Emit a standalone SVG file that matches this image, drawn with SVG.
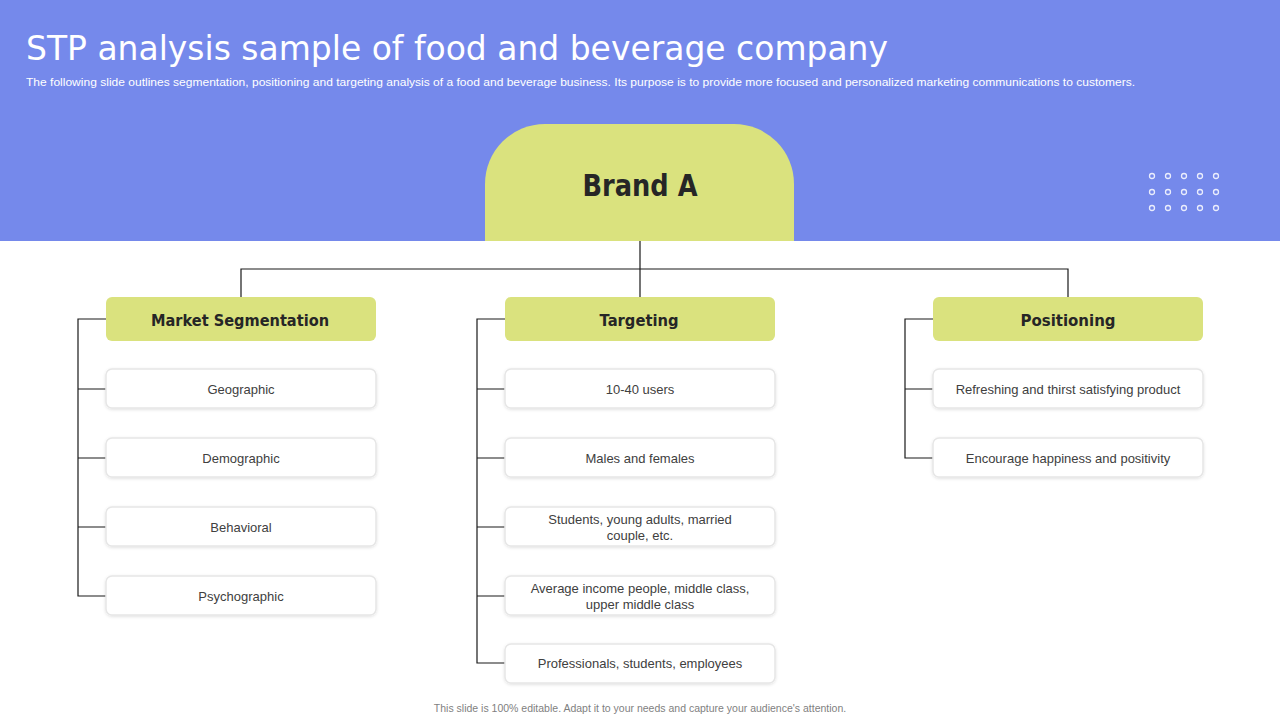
<svg xmlns="http://www.w3.org/2000/svg" width="1280" height="720" viewBox="0 0 1280 720">
<defs>
<style>
.hd{fill:#dae27e}
.bx{fill:#fff;stroke:#e6e6e6;stroke-width:1.5}
.ht{font-family:"DejaVu Sans","Liberation Sans",sans-serif;font-weight:bold;font-size:16px;fill:#262626;text-anchor:middle}
.it{font-family:"Liberation Sans",Arial,sans-serif;font-size:13px;fill:#404040;text-anchor:middle}
.ln{stroke:#1a1a1a;stroke-width:1.2;fill:none}
.dot{fill:none;stroke:#fff;stroke-opacity:.85;stroke-width:1.3}
</style>
<filter id="sh" x="-5%" y="-20%" width="110%" height="140%"><feDropShadow dx="0" dy="1" stdDeviation="1.5" flood-color="#000" flood-opacity="0.12"/></filter>
</defs>
<rect width="1280" height="720" fill="#fff"/>
<rect width="1280" height="241" fill="#7589eb"/>
<text x="26" y="60" font-family="DejaVu Sans,sans-serif" font-size="33" fill="#fff" textLength="862" lengthAdjust="spacingAndGlyphs">STP analysis sample of food and beverage company</text>
<text x="26" y="86" font-family="Liberation Sans,Arial,sans-serif" font-size="11.3" fill="#fff" textLength="1109" lengthAdjust="spacingAndGlyphs">The following slide outlines segmentation, positioning and targeting analysis of a food and beverage business. Its purpose is to provide more focused and personalized marketing communications to customers.</text>
<g id="dots">
<circle class="dot" cx="1152" cy="176" r="2.5"/><circle class="dot" cx="1168" cy="176" r="2.5"/><circle class="dot" cx="1184" cy="176" r="2.5"/><circle class="dot" cx="1200" cy="176" r="2.5"/><circle class="dot" cx="1216" cy="176" r="2.5"/>
<circle class="dot" cx="1152" cy="192" r="2.5"/><circle class="dot" cx="1168" cy="192" r="2.5"/><circle class="dot" cx="1184" cy="192" r="2.5"/><circle class="dot" cx="1200" cy="192" r="2.5"/><circle class="dot" cx="1216" cy="192" r="2.5"/>
<circle class="dot" cx="1152" cy="208" r="2.5"/><circle class="dot" cx="1168" cy="208" r="2.5"/><circle class="dot" cx="1184" cy="208" r="2.5"/><circle class="dot" cx="1200" cy="208" r="2.5"/><circle class="dot" cx="1216" cy="208" r="2.5"/>
</g>
<g id="brand">
<path d="M485,241 V184 A60,60 0 0 1 545,124 H734 A60,60 0 0 1 794,184 V241 Z" class="hd"/>
<text x="640" y="196" font-family="DejaVu Sans,sans-serif" font-weight="bold" font-size="30" fill="#262626" text-anchor="middle" textLength="115" lengthAdjust="spacingAndGlyphs">Brand A</text>
</g>
<g id="connectors">
<path class="ln" d="M640,241 V297 M241,297 V269 H1068 V297"/>
<path class="ln" d="M106,319 H78 V596 H106 M78,389 H106 M78,458 H106 M78,527 H106"/>
<path class="ln" d="M505,319 H477 V663 H505 M477,389 H505 M477,458 H505 M477,527 H505 M477,596 H505"/>
<path class="ln" d="M933,319 H905 V458 H933 M905,389 H933"/>
</g>
<g id="seg">
<rect class="hd" x="106" y="297" width="270" height="44" rx="6"/><text class="ht" x="240" y="326" textLength="178" lengthAdjust="spacingAndGlyphs">Market Segmentation</text>
</g>
<g id="seg-geo"><rect class="bx" filter="url(#sh)" x="106" y="369" width="270" height="39" rx="6"/><text class="it" x="241" y="394">Geographic</text></g>
<g id="seg-demo"><rect class="bx" filter="url(#sh)" x="106" y="438" width="270" height="39" rx="6"/><text class="it" x="241" y="463">Demographic</text></g>
<g id="seg-beh"><rect class="bx" filter="url(#sh)" x="106" y="507" width="270" height="39" rx="6"/><text class="it" x="241" y="532">Behavioral</text></g>
<g id="seg-psy"><rect class="bx" filter="url(#sh)" x="106" y="576" width="270" height="39" rx="6"/><text class="it" x="241" y="601">Psychographic</text></g>
<g id="tar">
<rect class="hd" x="505" y="297" width="270" height="44" rx="6"/><text class="ht" x="639" y="326" textLength="79" lengthAdjust="spacingAndGlyphs">Targeting</text>
</g>
<g id="tar-1"><rect class="bx" filter="url(#sh)" x="505" y="369" width="270" height="39" rx="6"/><text class="it" x="640" y="394">10-40 users</text></g>
<g id="tar-2"><rect class="bx" filter="url(#sh)" x="505" y="438" width="270" height="39" rx="6"/><text class="it" x="640" y="463">Males and females</text></g>
<g id="tar-3"><rect class="bx" filter="url(#sh)" x="505" y="507" width="270" height="39" rx="6"/><text class="it" x="640" y="524">Students, young adults, married</text><text class="it" x="640" y="540">couple, etc.</text></g>
<g id="tar-4"><rect class="bx" filter="url(#sh)" x="505" y="576" width="270" height="39" rx="6"/><text class="it" x="640" y="593">Average  income people, middle class,</text><text class="it" x="640" y="609">upper middle class</text></g>
<g id="tar-5"><rect class="bx" filter="url(#sh)" x="505" y="644" width="270" height="39" rx="6"/><text class="it" x="640" y="668">Professionals, students, employees</text></g>
<g id="pos">
<rect class="hd" x="933" y="297" width="270" height="44" rx="6"/><text class="ht" x="1068" y="326" textLength="95" lengthAdjust="spacingAndGlyphs">Positioning</text>
</g>
<g id="pos-1"><rect class="bx" filter="url(#sh)" x="933" y="369" width="270" height="39" rx="6"/><text class="it" x="1068" y="394">Refreshing  and thirst satisfying product</text></g>
<g id="pos-2"><rect class="bx" filter="url(#sh)" x="933" y="438" width="270" height="39" rx="6"/><text class="it" x="1068" y="463">Encourage happiness and positivity</text></g>
<text x="640" y="712" font-family="Liberation Sans,Arial,sans-serif" font-size="10.5" fill="#7f7f7f" text-anchor="middle">This slide is 100% editable. Adapt it to your needs and capture your audience's attention.</text>
</svg>
